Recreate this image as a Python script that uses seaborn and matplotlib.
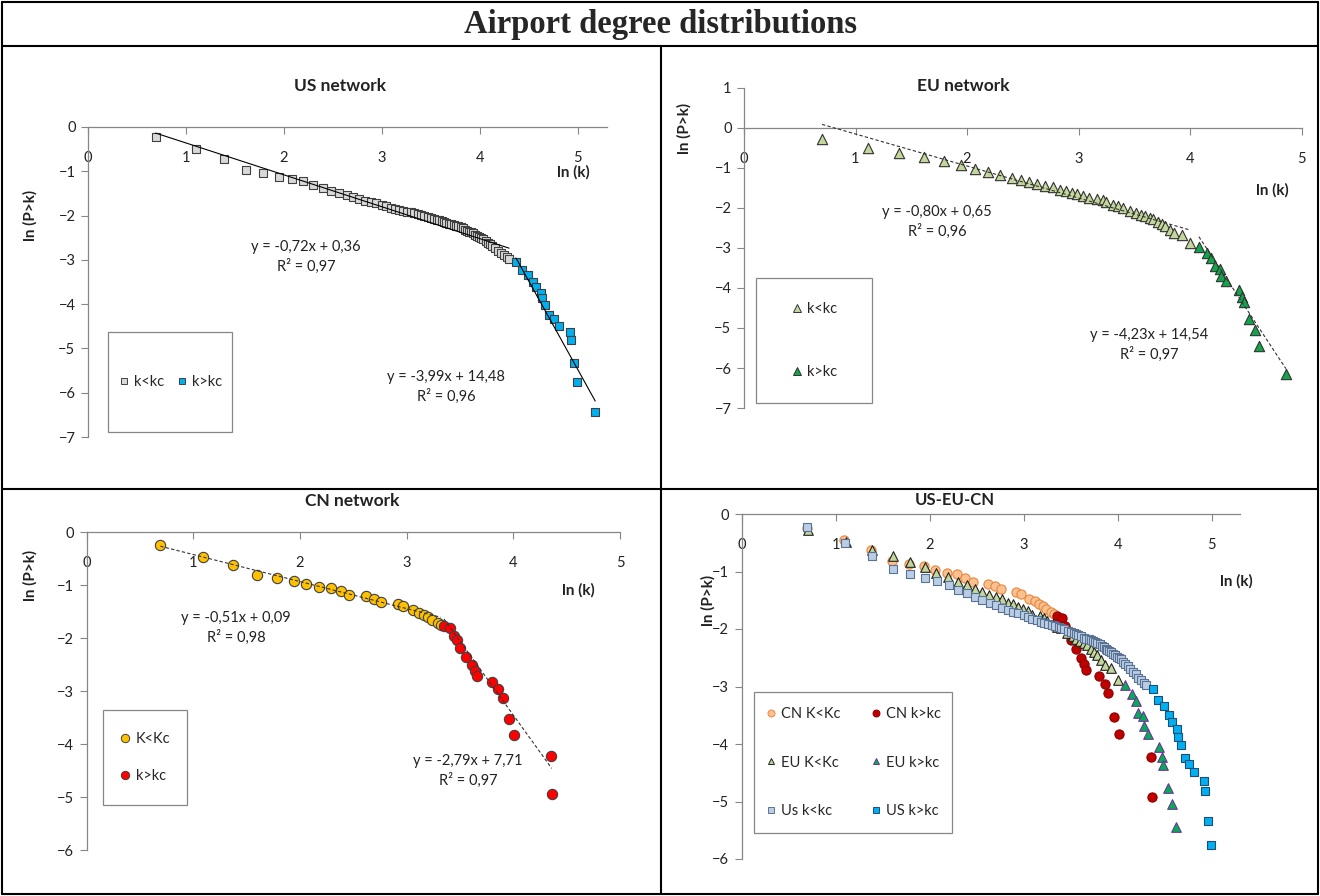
import numpy as np
import pandas as pd
import matplotlib
matplotlib.use("Agg")
import matplotlib.pyplot as plt
from matplotlib.lines import Line2D
from matplotlib.patches import Rectangle
import seaborn as sns

sns.set_theme(style="white")
plt.rcParams["font.family"] = ["Lato", "DejaVu Sans"]

# ---------------- data: ln(k) and ln(P>k) ----------------
us_low_x = [0.69, 1.10, 1.39, 1.61, 1.79, 1.95, 2.08, 2.20, 2.30, 2.40, 2.48, 2.56,
            2.64, 2.71, 2.77, 2.83, 2.89, 2.94, 3.00, 3.04, 3.09, 3.14, 3.18, 3.22,
            3.26, 3.30, 3.33, 3.37, 3.40, 3.43, 3.47, 3.50, 3.53, 3.56, 3.58, 3.61,
            3.64, 3.66, 3.69, 3.71, 3.74, 3.76, 3.78, 3.81, 3.83, 3.85, 3.87, 3.89,
            3.91, 3.93, 3.95, 3.97, 3.99, 4.01, 4.03, 4.06, 4.08, 4.11, 4.13, 4.16,
            4.19, 4.22, 4.25, 4.28, 4.30]
us_low_y = [-0.22, -0.50, -0.73, -0.96, -1.05, -1.12, -1.17, -1.23, -1.32, -1.38, -1.44, -1.50,
            -1.54, -1.59, -1.63, -1.67, -1.70, -1.72, -1.76, -1.79, -1.82, -1.85, -1.88, -1.90,
            -1.92, -1.93, -1.95, -1.96, -1.98, -2.00, -2.03, -2.05, -2.07, -2.09, -2.11, -2.13,
            -2.15, -2.17, -2.18, -2.19, -2.21, -2.23, -2.24, -2.26, -2.29, -2.32, -2.34, -2.36,
            -2.38, -2.40, -2.43, -2.46, -2.49, -2.51, -2.53, -2.57, -2.61, -2.65, -2.69, -2.74,
            -2.79, -2.85, -2.89, -2.94, -2.98]
us_high_x = [4.37, 4.43, 4.49, 4.54, 4.58, 4.63, 4.64, 4.67, 4.71, 4.76, 4.81, 4.92,
             4.93, 4.96, 4.99, 5.18]
us_high_y = [-3.05, -3.23, -3.34, -3.49, -3.62, -3.74, -3.87, -4.02, -4.24, -4.34, -4.49, -4.64,
             -4.82, -5.34, -5.76, -6.44]

eu_low_x = [0.70, 1.11, 1.39, 1.61, 1.79, 1.95, 2.07, 2.19, 2.30, 2.40, 2.48, 2.56,
            2.63, 2.70, 2.77, 2.83, 2.89, 2.94, 2.99, 3.04, 3.09, 3.17, 3.22, 3.25,
            3.31, 3.35, 3.40, 3.46, 3.52, 3.56, 3.60, 3.64, 3.67, 3.71, 3.75, 3.78,
            3.82, 3.86, 3.93, 4.00]
eu_low_y = [-0.28, -0.49, -0.63, -0.73, -0.83, -0.93, -1.03, -1.10, -1.18, -1.24, -1.30, -1.36,
            -1.40, -1.44, -1.48, -1.54, -1.57, -1.62, -1.65, -1.69, -1.75, -1.78, -1.81, -1.86,
            -1.92, -1.96, -1.99, -2.07, -2.13, -2.17, -2.21, -2.25, -2.28, -2.34, -2.40, -2.46,
            -2.54, -2.63, -2.67, -2.88]
eu_high_x = [4.08, 4.15, 4.19, 4.22, 4.27, 4.28, 4.32, 4.44, 4.47, 4.48, 4.53, 4.58, 4.62, 4.86]
eu_high_y = [-2.98, -3.13, -3.25, -3.46, -3.52, -3.69, -3.83, -4.06, -4.22, -4.36, -4.77, -5.05,
             -5.45, -6.14]

cn_low_x = [0.69, 1.09, 1.37, 1.60, 1.78, 1.94, 2.06, 2.18, 2.29, 2.38, 2.46, 2.62,
            2.69, 2.76, 2.92, 2.97, 3.06, 3.12, 3.16, 3.20, 3.24, 3.29, 3.32]
cn_low_y = [-0.24, -0.46, -0.62, -0.81, -0.87, -0.91, -0.97, -1.03, -1.05, -1.11, -1.19, -1.21,
            -1.26, -1.31, -1.35, -1.39, -1.47, -1.52, -1.56, -1.60, -1.65, -1.71, -1.74]
cn_high_x = [3.35, 3.41, 3.44, 3.47, 3.50, 3.56, 3.61, 3.64, 3.66, 3.80, 3.86, 3.90,
             3.96, 4.01, 4.35, 4.36]
cn_high_y = [-1.77, -1.81, -1.95, -2.03, -2.19, -2.35, -2.50, -2.61, -2.71, -2.82, -2.96, -3.12,
             -3.53, -3.82, -4.23, -4.93]

# trend line coefficients (slope, intercept) and the labels shown
us_fits = [(-0.72, 0.36), (-3.99, 14.48)]
eu_fits = [(-0.80, 0.65), (-4.23, 14.54)]
cn_fits = [(-0.51, 0.09), (-2.79, 7.71)]
us_eq = ["y = -0,72x + 0,36\nR² = 0,97", "y = -3,99x + 14,48\nR² = 0,96"]
eu_eq = ["y = -0,80x + 0,65\nR² = 0,96", "y = -4,23x + 14,54\nR² = 0,97"]
cn_eq = ["y = -0,51x + 0,09\nR² = 0,98", "y = -2,79x + 7,71\nR² = 0,97"]

W, H = 1320, 896
fig = plt.figure(figsize=(W / 100, H / 100), dpi=100)
fig.patch.set_facecolor("white")


def fx(x):
    return x / W


def fy(y):
    return 1 - y / H


def add_panel(x0, x1, ytop, ybot, xlim, ylim, yticks):
    ax = fig.add_axes([fx(x0), fy(ybot), (x1 - x0) / W, (ybot - ytop) / H])
    ax.set_xlim(*xlim)
    ax.set_ylim(*ylim)
    ax.set_facecolor("none")
    for s in ["top", "right"]:
        ax.spines[s].set_visible(False)
    ax.spines["bottom"].set_position(("data", 0))
    for s in ["bottom", "left"]:
        ax.spines[s].set_color("#868686")
        ax.spines[s].set_linewidth(0.9)
    ax.set_xticks([0, 1, 2, 3, 4, 5])
    ax.set_yticks(yticks)
    ax.tick_params(axis="x", direction="out", length=5, width=0.8, color="#868686",
                   pad=12, labelsize=10.5, labelcolor="#222222", bottom=True)
    ax.tick_params(axis="y", direction="out", length=5, width=0.8, color="#868686",
                   pad=4, labelsize=10.5, labelcolor="#222222", left=True)
    ax.set_xlabel("")
    ax.set_ylabel("")
    ax.grid(False)
    return ax


def scatter(ax, x, y, marker, face, edge, size, z=3):
    sns.scatterplot(x=x, y=y, ax=ax, marker=marker, color=face, edgecolor=edge,
                    linewidth=0.8, s=size, legend=False, zorder=z)


def trend(ax, x, fit, style):
    xs = np.array([min(x), max(x)])
    ys = fit[0] * xs + fit[1]
    sns.lineplot(x=xs, y=ys, ax=ax, color="#333333" if style != "-" else "black",
                 linewidth=0.8, linestyle=style, zorder=4)


def box_legend(rect, handles, labels, ncol, lspace, cspace):
    x0, y0, x1, y1 = rect
    fig.add_artist(Rectangle((fx(x0), fy(y1)), (x1 - x0) / W, (y1 - y0) / H,
                             transform=fig.transFigure, fill=False,
                             edgecolor="#868686", linewidth=0.9))
    fig.legend(handles, labels, loc="center", ncol=ncol, frameon=False,
               bbox_to_anchor=(fx((x0 + x1) / 2), fy((y0 + y1) / 2)),
               bbox_transform=fig.transFigure, fontsize=10.5, handlelength=0.8,
               handletextpad=0.3, labelspacing=lspace, columnspacing=cspace)


def mk(marker, face, edge, ms=5):
    return Line2D([], [], marker=marker, linestyle="none", markerfacecolor=face,
                  markeredgecolor=edge, markeredgewidth=0.7, markersize=ms)


dash = (0, (3, 2))
txt = dict(ha="center", va="center", fontsize=10.5, color="#222222", linespacing=1.35)
bold = dict(fontsize=11, fontweight="bold", color="#222222")
ptitle = dict(ha="center", va="center", fontsize=12.5, fontweight="bold", color="#222222")

# ---------------- US network ----------------
ax1 = add_panel(88, 607, 127, 437, (0, 5.3), (-7, 0), list(range(0, -8, -1)))
scatter(ax1, us_low_x, us_low_y, "s", "#d9d9d9", "#404040", 40)
scatter(ax1, us_high_x, us_high_y, "s", "#00b0f0", "#404040", 40)
trend(ax1, us_low_x, us_fits[0], "-")
trend(ax1, us_high_x, us_fits[1], "-")
fig.text(fx(306), fy(257), us_eq[0], **txt)
fig.text(fx(446), fy(387), us_eq[1], **txt)
fig.text(fx(340), fy(86), "US network", **ptitle)
fig.text(fx(30), fy(215), "ln (P>k)", rotation=90, ha="center", va="center", **bold)
fig.text(fx(573), fy(172), "ln (k)", ha="center", va="center", **bold)
box_legend((108, 332, 232, 432),
           [mk("s", "#d9d9d9", "#404040"), mk("s", "#00b0f0", "#404040")],
           ["k<kc", "k>kc"], 2, 0.5, 0.8)

# ---------------- EU network ----------------
ax2 = add_panel(744, 1301.5, 88, 408, (0, 5), (-7, 1), list(range(1, -8, -1)))
scatter(ax2, eu_low_x, eu_low_y, "^", "#c3d69b", "#333333", 55)
scatter(ax2, eu_high_x, eu_high_y, "^", "#12a44a", "#333333", 55)
trend(ax2, eu_low_x, eu_fits[0], dash)
trend(ax2, eu_high_x, eu_fits[1], dash)
fig.text(fx(937), fy(222), eu_eq[0], **txt)
fig.text(fx(1149), fy(345), eu_eq[1], **txt)
fig.text(fx(963), fy(86), "EU network", **ptitle)
fig.text(fx(684), fy(128), "ln (P>k)", rotation=90, ha="center", va="center", **bold)
fig.text(fx(1272), fy(190), "ln (k)", ha="center", va="center", **bold)
box_legend((756, 278, 872, 403),
           [mk("^", "#c3d69b", "#333333", 6), mk("^", "#12a44a", "#333333", 6)],
           ["k<kc", "k>kc"], 1, 3.4, 1)

# ---------------- CN network ----------------
ax3 = add_panel(86.7, 620, 532.3, 850.3, (0, 5), (-6, 0), list(range(0, -7, -1)))
scatter(ax3, cn_low_x, cn_low_y, "o", "#ffc000", "#404040", 55)
scatter(ax3, cn_high_x, cn_high_y, "o", "#ff0000", "#404040", 55)
trend(ax3, cn_low_x, cn_fits[0], dash)
trend(ax3, cn_high_x, cn_fits[1], dash)
fig.text(fx(236), fy(628), cn_eq[0], **txt)
fig.text(fx(468), fy(771), cn_eq[1], **txt)
fig.text(fx(352), fy(501), "CN network", **ptitle)
fig.text(fx(30), fy(575), "ln (P>k)", rotation=90, ha="center", va="center", **bold)
fig.text(fx(578), fy(590), "ln (k)", ha="center", va="center", **bold)
box_legend((103, 710, 187, 805),
           [mk("o", "#ffc000", "#404040", 6), mk("o", "#ff0000", "#404040", 6)],
           ["K<Kc", "k>kc"], 1, 1.6, 1)

# ---------------- US-EU-CN ----------------
ax4 = add_panel(741.7, 1240, 514, 859, (0, 5.3), (-6, 0), list(range(0, -7, -1)))
scatter(ax4, cn_low_x, cn_low_y, "o", "#fac090", "#e9873e", 44)
scatter(ax4, cn_high_x, cn_high_y, "o", "#c00000", "#8b0000", 44)
scatter(ax4, eu_low_x, eu_low_y, "^", "#c3d69b", "#222222", 48)
scatter(ax4, eu_high_x, eu_high_y, "^", "#00b050", "#7030a0", 48)
scatter(ax4, us_low_x, us_low_y, "s", "#b9cde5", "#5a7394", 38)
scatter(ax4, us_high_x, us_high_y, "s", "#00b0f0", "#1f4e79", 38)
fig.text(fx(955), fy(500), "US-EU-CN", ha="center", va="center", fontsize=12,
         fontweight="bold", color="#222222")
fig.text(fx(708), fy(600), "ln (P>k)", rotation=90, ha="center", va="center", **bold)
fig.text(fx(1236), fy(581), "ln (k)", ha="center", va="center", **bold)
box_legend((754, 692, 952, 833),
           [mk("o", "#fac090", "#e9873e"), mk("^", "#c3d69b", "#222222"),
            mk("s", "#b9cde5", "#5a7394"), mk("o", "#c00000", "#8b0000"),
            mk("^", "#00b050", "#7030a0"), mk("s", "#00b0f0", "#1f4e79")],
           ["CN K<Kc", "EU K<Kc", "Us k<kc", "CN k>kc", "EU k>kc", "US k>kc"],
           2, 2.35, 2.0)

# ---------------- frame and title ----------------
fig.text(0.5, fy(25), "Airport degree distributions", ha="center", va="center",
         fontsize=23.5, fontweight="bold", family=["Liberation Serif", "DejaVu Serif"])
lines = [((2, 2), (1318, 2)), ((2, 894), (1318, 894)), ((2, 2), (2, 894)),
         ((1318, 2), (1318, 894)), ((2, 46), (1318, 46)), ((2, 489), (1318, 489)),
         ((661, 46), (661, 894))]
for (xa, ya), (xb, yb) in lines:
    fig.add_artist(Line2D([fx(xa), fx(xb)], [fy(ya), fy(yb)], transform=fig.transFigure,
                          color="black", linewidth=1.5))

fig.savefig("out.png", dpi=100, facecolor="white")
